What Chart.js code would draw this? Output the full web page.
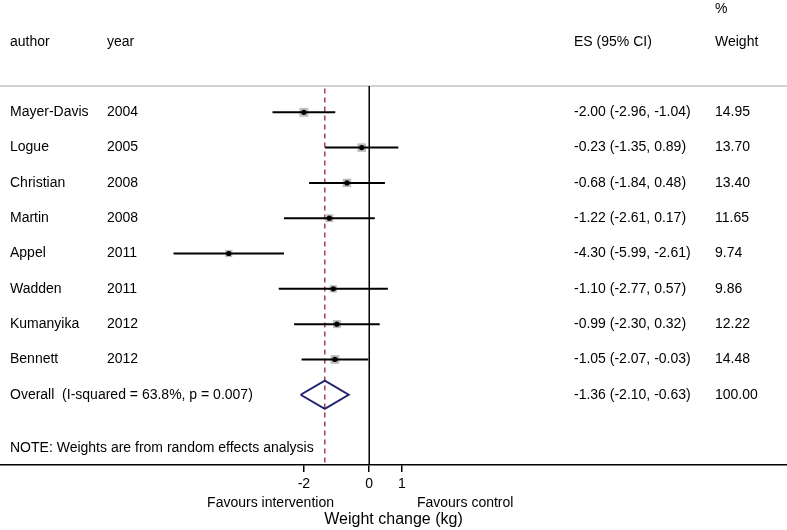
<!DOCTYPE html>
<html>
<head>
<meta charset="utf-8">
<script src="https://cdn.jsdelivr.net/npm/chart.js@4"></script>
<style>
  body { margin: 0; background: #fff; }
  #wrap { width: 787px; height: 530px; position: relative; }
</style>
</head>
<body>
<div id="wrap"><canvas id="forest"></canvas></div>
<script>
const authors = ['Mayer-Davis', 'Logue', 'Christian', 'Martin', 'Appel', 'Wadden', 'Kumanyika', 'Bennett'];
const years = ['2004', '2005', '2008', '2008', '2011', '2011', '2012', '2012'];
const effects = [-2.00, -0.23, -0.68, -1.22, -4.30, -1.10, -0.99, -1.05];
const lower = [-2.96, -1.35, -1.84, -2.61, -5.99, -2.77, -2.30, -2.07];
const upper = [-1.04, 0.89, 0.48, 0.17, -2.61, 0.57, 0.32, -0.03];
const weights = [14.95, 13.70, 13.40, 11.65, 9.74, 9.86, 12.22, 14.48];
const overallLabel = 'Overall  (I-squared = 63.8%, p = 0.007)';
const overallEs = -1.36;
const overallLo = -2.10;
const overallHi = -0.63;
const overallWeight = 100.00;
const xTicks = [-2, 0, 1];
const noteText = 'NOTE: Weights are from random effects analysis';

// axis ranges so the plot spans the whole canvas like the stata graph
const X_MIN = -11.30, X_MAX = 12.785;
const Y_MIN = -0.745, Y_MAX = 9.99;
const overallRow = authors.length;

const FONT = "'Liberation Sans', Arial, sans-serif";
Chart.defaults.font.family = FONT;

const datasets = [];

// top border line and reference lines
datasets.push({
  data: [{ x: X_MIN, y: Y_MIN }, { x: X_MAX, y: Y_MIN }],
  showLine: true, borderColor: '#d2d2d2', borderWidth: 2, pointRadius: 0, order: 9
});
datasets.push({
  data: [{ x: 0, y: Y_MIN }, { x: 0, y: Y_MAX }],
  showLine: true, borderColor: '#000', borderWidth: 1.5, pointRadius: 0, order: 8
});
datasets.push({
  data: [{ x: overallEs, y: Y_MIN + 0.07 }, { x: overallEs, y: Y_MAX }],
  showLine: true, borderColor: '#a3404f', borderWidth: 1.5, borderDash: [5, 4], pointRadius: 0, order: 7
});

// weight boxes
datasets.push({
  data: effects.map((v, i) => ({ x: v, y: i })),
  pointStyle: 'rect',
  pointRadius: ctx => 2.3 * Math.sqrt(weights[ctx.dataIndex]) / Math.SQRT2,
  backgroundColor: '#bcbcbc', borderWidth: 0, order: 6
});

// confidence intervals
effects.forEach((v, i) => {
  datasets.push({
    data: [{ x: lower[i], y: i }, { x: upper[i], y: i }],
    showLine: true, borderColor: '#000', borderWidth: 2, pointRadius: 0, order: 4
  });
});

// point estimates
datasets.push({
  data: effects.map((v, i) => ({ x: v, y: i })),
  pointStyle: 'circle', pointRadius: 2.6,
  backgroundColor: '#000', borderWidth: 0, order: 1
});

// overall diamond
const dh = 0.4;
datasets.push({
  data: [
    { x: overallLo, y: overallRow },
    { x: overallEs, y: overallRow - dh },
    { x: overallHi, y: overallRow },
    { x: overallEs, y: overallRow + dh },
    { x: overallLo, y: overallRow }
  ],
  showLine: true, borderColor: '#232370', borderWidth: 2, pointRadius: 0, tension: 0, order: 2
});

datasets.forEach(d => { d.clip = false; });

const fmt = v => v.toFixed(2);

const textColumns = {
  id: 'textColumns',
  afterDatasetsDraw(chart) {
    const { ctx, scales: { x, y } } = chart;
    ctx.save();
    ctx.fillStyle = '#000';
    ctx.font = '14px ' + FONT;
    ctx.textBaseline = 'middle';
    ctx.textAlign = 'left';

    const colAuthor = 10, colYear = 107, colEs = 574, colW = 715;

    ctx.fillText('%', colW, y.getPixelForValue(-2.93));
    ctx.fillText('author', colAuthor, y.getPixelForValue(-1.98));
    ctx.fillText('year', colYear, y.getPixelForValue(-1.98));
    ctx.fillText('ES (95% CI)', colEs, y.getPixelForValue(-1.98));
    ctx.fillText('Weight', colW, y.getPixelForValue(-1.98));

    authors.forEach((a, i) => {
      const py = y.getPixelForValue(i);
      ctx.fillText(a, colAuthor, py);
      ctx.fillText(years[i], colYear, py);
      ctx.fillText(`${fmt(effects[i])} (${fmt(lower[i])}, ${fmt(upper[i])})`, colEs, py);
      ctx.fillText(fmt(weights[i]), colW, py);
    });

    const oy = y.getPixelForValue(overallRow);
    ctx.fillText(overallLabel, colAuthor, oy);
    ctx.fillText(`${fmt(overallEs)} (${fmt(overallLo)}, ${fmt(overallHi)})`, colEs, oy);
    ctx.fillText(fmt(overallWeight), colW, oy);

    ctx.fillText(noteText, colAuthor, y.getPixelForValue(9.51));

    // favours labels under the axis
    const fy = x.top + 38;
    ctx.textAlign = 'right';
    ctx.fillText('Favours intervention', x.getPixelForValue(-1.08), fy);
    ctx.textAlign = 'left';
    ctx.fillText('Favours control', x.getPixelForValue(1.46), fy);
    ctx.restore();
  }
};

new Chart(document.getElementById('forest'), {
  type: 'scatter',
  data: { datasets },
  plugins: [textColumns],
  options: {
    responsive: true,
    maintainAspectRatio: false,
    animation: false,
    layout: { autoPadding: false, padding: { top: 86, left: 0, right: 0, bottom: 0 } },
    plugins: { legend: { display: false }, tooltip: { enabled: false } },
    scales: {
      x: {
        type: 'linear',
        min: X_MIN,
        max: X_MAX,
        afterBuildTicks: scale => { scale.ticks = xTicks.map(v => ({ value: v })); },
        afterFit: scale => { scale.height = 65; },
        ticks: { color: '#000', font: { size: 14 }, padding: 4, maxRotation: 0, autoSkip: false },
        grid: { drawOnChartArea: false, drawTicks: true, tickLength: 7, color: '#000', lineWidth: 1.5 },
        border: { display: true, color: '#000', width: 1.5 },
        title: { display: true, text: 'Weight change (kg)', color: '#000', font: { size: 16 }, padding: { top: 0, bottom: 1 } }
      },
      y: {
        type: 'linear',
        display: false,
        reverse: true,
        min: Y_MIN,
        max: Y_MAX
      }
    }
  }
});
</script>
</body>
</html>
